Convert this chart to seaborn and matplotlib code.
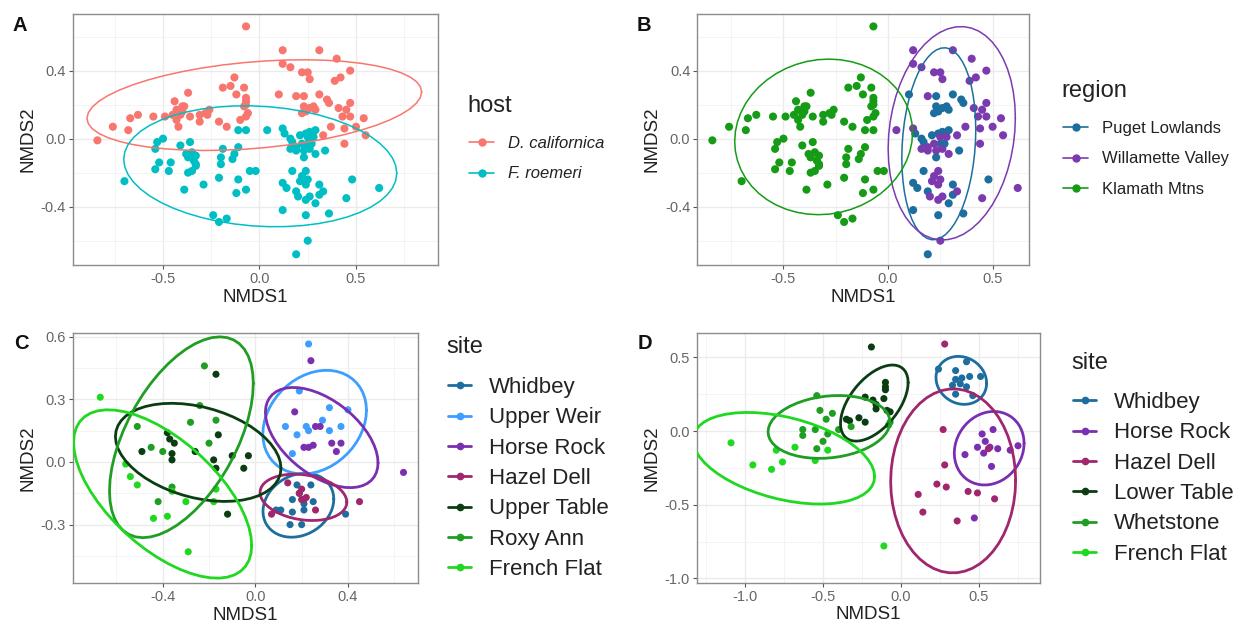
import numpy as np
import pandas as pd
import matplotlib
matplotlib.use("Agg")
import matplotlib.pyplot as plt
from matplotlib.lines import Line2D
import seaborn as sns

# ---------------- Panels A / B: all samples, by host and by region ----------------
# D. californica samples
dcal_klamath_x = [-0.07, -0.13, -0.19, -0.15, -0.08, -0.12, -0.07, -0.07, -0.07, -0.08,
                  -0.06, -0.07, -0.10, -0.37, -0.44, -0.40, -0.39, -0.43, -0.40, -0.45,
                  -0.41, -0.36, -0.31, -0.28, -0.26, -0.27, -0.31, -0.42, -0.43, -0.21,
                  -0.17, -0.55, -0.49, -0.63, -0.67, -0.68, -0.76, -0.84]
dcal_klamath_y = [0.66, 0.36, 0.30, 0.31, 0.30, 0.26, 0.24, 0.22, 0.20, 0.19,
                  0.15, 0.13, 0.11, 0.27, 0.22, 0.19, 0.19, 0.17, 0.16, 0.14,
                  0.14, 0.13, 0.14, 0.15, 0.17, 0.14, 0.10, 0.07, 0.11, 0.10,
                  0.07, 0.13, 0.13, 0.14, 0.12, 0.05, 0.07, -0.01]
dcal_puget_x = [0.10, 0.23, 0.31, 0.35, 0.36, 0.23, 0.28, 0.26, 0.29, 0.22, 0.24]
dcal_puget_y = [0.26, 0.25, 0.26, 0.23, 0.21, 0.19, 0.19, 0.18, 0.17, 0.15, 0.16]
dcal_willamette_x = [0.12, 0.31, 0.12, 0.16, 0.40, 0.22, 0.25, 0.26, 0.47, 0.42, 0.39, 0.19,
                     0.41, 0.47, 0.45, 0.43, 0.47, 0.54, 0.37, 0.50, 0.44, 0.55, 0.33, 0.44]
dcal_willamette_y = [0.52, 0.52, 0.44, 0.42, 0.47, 0.39, 0.39, 0.35, 0.40, 0.36, 0.34, 0.25,
                     0.18, 0.21, 0.17, 0.13, 0.13, 0.12, 0.07, 0.07, 0.06, 0.02, 0.02, -0.03]

# F. roemeri samples
froe_klamath_x = [-0.53, -0.50, -0.54, -0.41, -0.36, -0.38, -0.35, -0.33, -0.37, -0.34,
                  -0.33, -0.33, -0.35, -0.37, -0.52, -0.46, -0.54, -0.47, -0.39, -0.29,
                  -0.70, -0.19, -0.20, -0.20, -0.21, -0.11, -0.13, -0.14, -0.11, -0.07,
                  -0.05, -0.02, -0.11, -0.12, -0.07, -0.24, -0.21, -0.17]
froe_klamath_y = [-0.02, 0.00, -0.06, -0.04, -0.02, -0.09, -0.08, -0.10, -0.11, -0.13,
                  -0.15, -0.16, -0.19, -0.20, -0.14, -0.14, -0.18, -0.19, -0.30, -0.27,
                  -0.25, -0.06, -0.11, -0.15, -0.23, -0.05, -0.09, -0.12, 0.05, 0.05,
                  -0.19, -0.19, -0.24, -0.32, -0.30, -0.45, -0.49, -0.47]
froe_puget_x = [0.13, 0.16, 0.17, 0.21, 0.24, 0.26, 0.29, 0.25, 0.27, 0.23, 0.34, 0.17,
                0.12, 0.14, 0.19, 0.31, 0.31, 0.29, 0.36, 0.24, 0.12, 0.48, 0.19]
froe_puget_y = [0.03, 0.00, -0.02, 0.02, 0.03, 0.04, 0.05, -0.03, -0.03, -0.11, -0.07, -0.19,
                -0.26, -0.29, -0.31, -0.27, -0.33, -0.38, -0.44, -0.45, -0.42, -0.24, -0.68]
froe_willamette_x = [0.04, 0.12, 0.19, 0.16, 0.25, 0.28, 0.22, 0.19, 0.23, 0.26, 0.29, 0.24,
                     0.22, 0.25, 0.21, 0.24, 0.20, 0.24, 0.26, 0.33, 0.45, 0.62, 0.25]
froe_willamette_y = [0.05, 0.06, -0.05, -0.06, 0.01, 0.01, -0.03, -0.07, -0.07, -0.06, -0.09, -0.19,
                     -0.22, -0.24, -0.25, -0.27, -0.34, -0.36, -0.34, -0.31, -0.35, -0.29, -0.60]

host_names = ["D. californica", "F. roemeri"]
host_colors = ["#F8766D", "#00BFC4"]
region_names = ["Puget Lowlands", "Willamette Valley", "Klamath Mtns"]
region_colors = ["#1C6E9E", "#7B3BAE", "#169B16"]

# ---------------- Panel C: D. californica sites ----------------
sites_c = ["Whidbey", "Upper Weir", "Horse Rock", "Hazel Dell", "Upper Table", "Roxy Ann", "French Flat"]
colors_c = ["#1D6E9E", "#3D9EFF", "#7A2FB0", "#A0266E", "#0B3D12", "#1F9E24", "#1FD81F"]
c_whidbey_x = [0.18, 0.24, 0.16, 0.21, 0.25, 0.21, 0.16, 0.09, 0.15, 0.20, 0.39, 0.19, 0.11]
c_whidbey_y = [-0.11, -0.11, -0.18, -0.20, -0.19, -0.23, -0.24, -0.23, -0.30, -0.30, -0.25, -0.15, -0.23]
c_upperweir_x = [0.23, 0.19, 0.32, 0.40, 0.13, 0.18, 0.22, 0.23, 0.29, 0.32, 0.37, 0.16]
c_upperweir_y = [0.565, 0.34, 0.26, 0.25, 0.17, 0.13, 0.17, 0.15, 0.20, 0.15, 0.17, 0.04]
c_horserock_x = [0.24, 0.17, 0.21, 0.23, 0.25, 0.26, 0.28, 0.33, 0.37, 0.35, 0.64]
c_horserock_y = [0.485, 0.24, 0.07, 0.07, 0.08, 0.17, 0.17, 0.09, 0.09, 0.05, -0.05]
c_hazeldell_x = [0.14, 0.20, 0.19, 0.20, 0.21, 0.26, 0.07, 0.45, 0.22]
c_hazeldell_y = [-0.10, -0.13, -0.15, -0.18, -0.18, -0.23, -0.25, -0.19, -0.17]
c_uppertable_x = [-0.17, -0.38, -0.37, -0.35, -0.16, -0.49, -0.36, -0.36, -0.26, -0.18, -0.17,
                  -0.10, -0.03, -0.05, -0.12]
c_uppertable_y = [0.42, 0.14, 0.11, 0.09, 0.13, 0.05, 0.04, 0.01, 0.05, 0.01, -0.03,
                  0.03, 0.03, -0.03, -0.25]
c_roxyann_x = [-0.22, -0.24, -0.28, -0.17, -0.20, -0.45, -0.40, -0.51, -0.36, -0.42]
c_roxyann_y = [0.46, 0.27, 0.19, 0.20, 0.09, 0.07, 0.05, 0.17, -0.12, -0.19]
c_frenchflat_x = [-0.67, -0.56, -0.54, -0.51, -0.36, -0.30, -0.44, -0.38, -0.29, -0.18, -0.17]
c_frenchflat_y = [0.31, -0.01, -0.07, -0.11, -0.14, -0.19, -0.27, -0.26, -0.43, -0.19, -0.13]

# ---------------- Panel D: F. roemeri sites ----------------
sites_d = ["Whidbey", "Horse Rock", "Hazel Dell", "Lower Table", "Whetstone", "French Flat"]
colors_d = ["#1D6E9E", "#7A2FB0", "#A0266E", "#0B3D12", "#1F9E24", "#1FD81F"]
d_whidbey_x = [0.24, 0.35, 0.42, 0.35, 0.39, 0.44, 0.51, 0.33, 0.38, 0.42, 0.35, 0.46]
d_whidbey_y = [0.42, 0.41, 0.47, 0.35, 0.36, 0.37, 0.37, 0.31, 0.32, 0.30, 0.25, 0.24]
d_horserock_x = [0.52, 0.59, 0.54, 0.49, 0.53, 0.57, 0.62, 0.70, 0.75, 0.58, 0.41, 0.47]
d_horserock_y = [-0.02, 0.01, -0.07, -0.11, -0.15, -0.11, -0.12, -0.13, -0.10, -0.24, -0.16, -0.59]
d_hazeldell_x = [0.28, 0.27, 0.28, 0.23, 0.29, 0.11, 0.14, 0.36, 0.43, 0.49, 0.60, 0.56]
d_hazeldell_y = [0.59, 0.01, -0.23, -0.36, -0.38, -0.43, -0.55, -0.61, -0.41, -0.42, -0.46, -0.12]
d_lowertable_x = [-0.19, -0.10, -0.10, -0.10, -0.11, -0.16, -0.16, -0.09, -0.07, -0.23, -0.27, -0.23,
                  -0.33, -0.35, -0.18]
d_lowertable_y = [0.57, 0.33, 0.30, 0.28, 0.22, 0.18, 0.15, 0.14, 0.13, 0.23, 0.09, 0.06,
                  0.07, 0.08, 0.21]
d_whetstone_x = [-0.63, -0.63, -0.55, -0.47, -0.50, -0.48, -0.52, -0.44, -0.54, -0.40, -0.32,
                 -0.07, -0.08, -0.54]
d_whetstone_y = [0.01, -0.03, 0.01, -0.02, -0.07, 0.08, 0.14, 0.12, 0.24, 0.01, 0.03,
                 0.06, 0.04, -0.12]
d_frenchflat_x = [-1.09, -0.95, -0.83, -0.76, -0.80, -0.68, -0.55, -0.47, -0.11]
d_frenchflat_y = [-0.08, -0.23, -0.26, -0.21, -0.13, -0.11, -0.20, -0.13, -0.78]


def frame(groups, names):
    rows = []
    for (gx, gy), name in zip(groups, names):
        rows.append(pd.DataFrame({"NMDS1": gx, "NMDS2": gy, "group": name}))
    return pd.concat(rows, ignore_index=True)


def t_ellipse(x, y, level=0.95, nu=5, segments=51):
    """95% ellipse from a multivariate-t (robust) covariance estimate."""
    pts = np.column_stack([x, y]).astype(float)
    n = len(pts)
    w = np.ones(n)
    loc = pts.mean(axis=0)
    X = pts - loc
    for _ in range(25):
        w0 = w
        X = pts - loc
        cov_w = (X * (w / w.sum())[:, None]).T @ X
        q = np.einsum("ij,jk,ik->i", X, np.linalg.inv(cov_w), X)
        w = (nu + 2) / (nu + q)
        loc = (w[:, None] * pts).sum(axis=0) / w.sum()
        if np.all(np.abs(w - w0) < 0.01):
            break
    shape = (X * w[:, None]).T @ X / n
    dfd = n - 1
    fq = dfd / 2 * ((1 - level) ** (-2 / dfd) - 1)
    radius = np.sqrt(2 * fq)
    upper = np.linalg.cholesky(shape).T
    ang = np.linspace(0, 2 * np.pi, segments)
    circ = np.column_stack([np.cos(ang), np.sin(ang)])
    ell = loc + radius * circ @ upper
    return ell[:, 0], ell[:, 1]


# assemble A/B table
ab_parts = [
    (dcal_klamath_x, dcal_klamath_y, host_names[0], region_names[2]),
    (dcal_puget_x, dcal_puget_y, host_names[0], region_names[0]),
    (dcal_willamette_x, dcal_willamette_y, host_names[0], region_names[1]),
    (froe_klamath_x, froe_klamath_y, host_names[1], region_names[2]),
    (froe_puget_x, froe_puget_y, host_names[1], region_names[0]),
    (froe_willamette_x, froe_willamette_y, host_names[1], region_names[1]),
]
df_ab = pd.concat([pd.DataFrame({"NMDS1": px, "NMDS2": py, "host": h, "region": r})
                   for px, py, h, r in ab_parts], ignore_index=True)

df_c = frame([(c_whidbey_x, c_whidbey_y), (c_upperweir_x, c_upperweir_y),
              (c_horserock_x, c_horserock_y), (c_hazeldell_x, c_hazeldell_y),
              (c_uppertable_x, c_uppertable_y), (c_roxyann_x, c_roxyann_y),
              (c_frenchflat_x, c_frenchflat_y)], sites_c)
df_d = frame([(d_whidbey_x, d_whidbey_y), (d_horserock_x, d_horserock_y),
              (d_hazeldell_x, d_hazeldell_y), (d_lowertable_x, d_lowertable_y),
              (d_whetstone_x, d_whetstone_y), (d_frenchflat_x, d_frenchflat_y)], sites_d)

sns.set_theme(style="white")
plt.rcParams["font.family"] = ["Liberation Sans", "DejaVu Sans"]
plt.rcParams["axes.unicode_minus"] = False

W, H = 1244, 629
fig = plt.figure(figsize=(W / 100, H / 100), dpi=100)


def axes_px(left, top, right, bottom):
    return fig.add_axes([left / W, 1 - bottom / H, (right - left) / W, (bottom - top) / H])


def style_axes(ax, xlim, ylim, xmaj, xmin, ymaj, ymin):
    ax.set_xlim(*xlim)
    ax.set_ylim(*ylim)
    ax.set_xticks(xmaj)
    ax.set_xticks(xmin, minor=True)
    ax.set_yticks(ymaj)
    ax.set_yticks(ymin, minor=True)
    ax.set_xticklabels([f"{v:.1f}" for v in xmaj])
    ax.set_yticklabels([f"{v:.1f}" for v in ymaj])
    ax.grid(True, which="major", color="#EBEBEB", linewidth=1.0, zorder=0)
    ax.grid(True, which="minor", color="#F3F3F3", linewidth=0.6, zorder=0)
    ax.set_axisbelow(True)
    for sp in ax.spines.values():
        sp.set_color("#8C8C8C")
        sp.set_linewidth(1.0)
    ax.tick_params(which="major", length=3, width=0.8, color="#555555",
                   labelsize=10.5, labelcolor="#666666", pad=2, bottom=True, left=True)
    ax.tick_params(which="minor", length=0)
    ax.set_xlabel("NMDS1", fontsize=13.5, color="#222222", labelpad=2)
    ax.set_ylabel("NMDS2", fontsize=13.5, color="#222222", labelpad=3)


def draw_panel(ax, data, hue, order, colors, size, lw):
    pal = dict(zip(order, colors))
    sns.scatterplot(data=data, x="NMDS1", y="NMDS2", hue=hue, hue_order=order,
                    palette=pal, s=size, linewidth=0, legend=False, ax=ax, zorder=3)
    for name in order:
        sub = data[data[hue] == name]
        ex, ey = t_ellipse(sub["NMDS1"].values, sub["NMDS2"].values)
        ax.plot(ex, ey, color=pal[name], linewidth=lw, zorder=4)


def legend(title, names, colors, x, y_title, y_first, fsize, spacing, hlen, tpad, lw, ms,
           italic=False):
    fig.text(x / W, 1 - y_title / H, title, fontsize=17, color="#222222",
             ha="left", va="baseline")
    handles = [Line2D([0], [0], color=c, lw=lw, marker="o", markersize=ms) for c in colors]
    leg = fig.legend(handles, names, loc="upper left",
                     bbox_to_anchor=((x + 2) / W, 1 - y_first / H), frameon=False,
                     fontsize=fsize, labelspacing=spacing, handlelength=hlen,
                     handletextpad=tpad, borderpad=0, borderaxespad=0)
    for t in leg.get_texts():
        t.set_color("#222222")
        if italic:
            t.set_fontstyle("italic")
    return leg


# Panel A
axA = axes_px(72.7, 14, 438, 265)
draw_panel(axA, df_ab, "host", host_names, host_colors, 34, 1.1)
style_axes(axA, (-0.968, 0.925), (-0.743, 0.733), [-0.5, 0, 0.5], [-0.75, -0.25, 0.25, 0.75],
           [-0.4, 0, 0.4], [-0.6, -0.2, 0.2, 0.6])
legend("host", host_names, host_colors, 467, 112, 136, 12, 0.93, 1.5, 0.85, 1.2, 5, italic=True)

# Panel B
axB = axes_px(697.3, 14, 1029, 265)
draw_panel(axB, df_ab, "region", region_names, region_colors, 34, 1.1)
style_axes(axB, (-0.912, 0.674), (-0.743, 0.733), [-0.5, 0, 0.5], [-0.75, -0.25, 0.25],
           [-0.4, 0, 0.4], [-0.6, -0.2, 0.2, 0.6])
legend("region", region_names, region_colors, 1061, 97, 121, 12, 0.93, 1.5, 0.85, 1.2, 5)

# Panel C
axC = axes_px(72.7, 332.7, 418.3, 583.3)
draw_panel(axC, df_c, "group", sites_c, colors_c, 26, 2.0)
style_axes(axC, (-0.789, 0.704), (-0.581, 0.619), [-0.4, 0, 0.4], [-0.6, -0.2, 0.2, 0.6],
           [-0.3, 0, 0.3, 0.6], [-0.45, -0.15, 0.15, 0.45])
legend("site", sites_c, colors_c, 446, 353, 377, 16, 0.42, 1.05, 0.8, 2.0, 4.5)

# Panel D
axD = axes_px(696.7, 332.7, 1040, 582.7)
draw_panel(axD, df_d, "group", sites_d, colors_d, 26, 2.0)
style_axes(axD, (-1.31, 0.891), (-1.029, 0.667), [-1.0, -0.5, 0, 0.5],
           [-1.25, -0.75, -0.25, 0.25, 0.75], [-1.0, -0.5, 0, 0.5], [-0.75, -0.25, 0.25])
legend("site", sites_d, colors_d, 1071, 369, 392, 16, 0.42, 1.05, 0.8, 2.0, 4.5)

# panel tags
for tag, px, py in [("A", 12, 16), ("B", 637, 16), ("C", 14, 334), ("D", 638, 334)]:
    fig.text(px / W, 1 - py / H, tag, fontsize=14.5, fontweight="bold", color="#111111",
             ha="left", va="top")

fig.savefig("out.png", dpi=100)
